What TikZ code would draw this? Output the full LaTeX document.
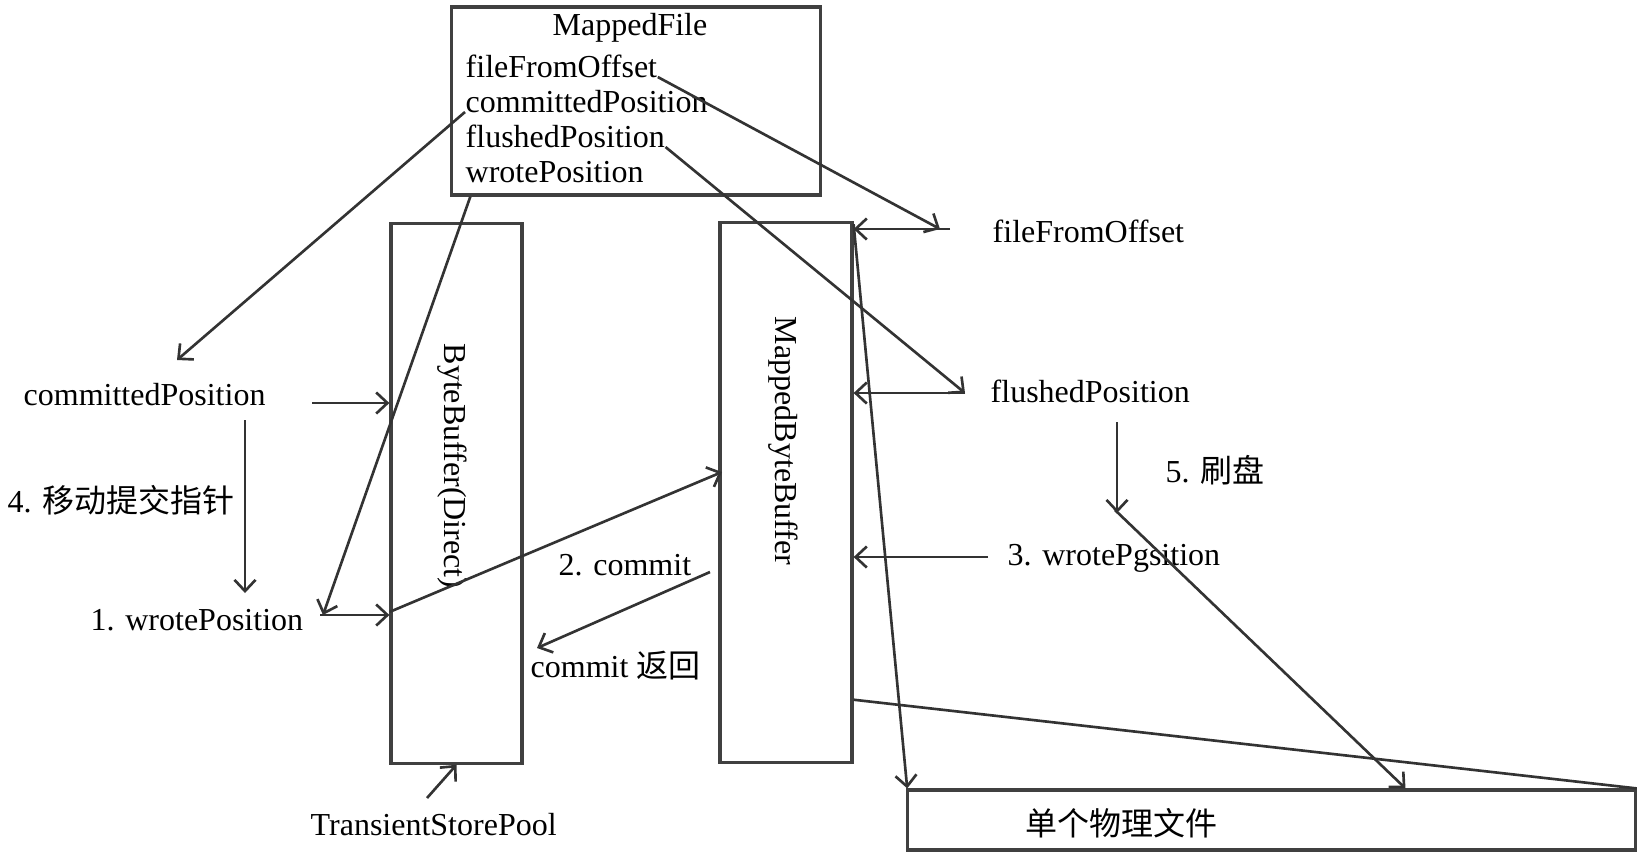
\documentclass[tikz,border=0pt]{standalone}
\usepackage{fontspec}
\setmainfont{Liberation Serif}
\newfontfamily\cjk{Noto Sans CJK SC}
\usetikzlibrary{arrows.meta}
\tikzset{box/.style={draw=black!75,line width=0.9pt,inner sep=0pt},
  txt/.style={inner sep=0pt,font=\fontsize{9.1pt}{11pt}\selectfont},
  vtxt/.style={txt,rotate=-90},
  ln/.style={draw=black!80,line width=0.75pt}}

\begin{document}
\begin{tikzpicture}[x=0.01cm,y=-0.01cm,>={Straight Barb[length=3.2pt,width=6pt]}]
        \useasboundingbox (0,0) rectangle (1645,859);
        % boxes
        \node[box,minimum width=3.68cm,minimum height=1.88cm] (mf) at (636,101) {};
        \node[box,minimum width=1.31cm,minimum height=5.39cm] (bb) at (456.5,493.5) {};
        \node[box,minimum width=1.32cm,minimum height=5.39cm] (mbb) at (786,492.5) {};
        \node[box,minimum width=7.27cm,minimum height=0.60cm] (pf) at (1271.5,820) {};

        % texts in the boxes
        \node[txt,anchor=base] (mft) at (630,35) {MappedFile};
        \node[txt,anchor=base west] (f1) at (465,77) {fileFromOffset};
        \node[txt,anchor=base west] (f2) at (465,112) {committedPosition};
        \node[txt,anchor=base west] (f3) at (465,147) {flushedPosition};
        \node[txt,anchor=base west] (f4) at (465,182) {wrotePosition};
        \node[vtxt] (bbt) at (452,466) {ByteBuffer(Direct)};
        \node[vtxt] (mbbt) at (783,441) {MappedByteBuffer};
        \node[txt,anchor=base west] (pft) at (1025,835) {\cjk 单个物理文件};

        % labels
        \node[txt,anchor=base west] (cp) at (23,405) {committedPosition};
        \node[txt,anchor=base west] (mv) at (7,512) {4. {\cjk 移动提交指针}};
        \node[txt,anchor=base west] (wp) at (90,630) {1. wrotePosition};
        \node[txt,anchor=base west] (cm) at (558,575) {2. commit};
        \node[txt,anchor=base west] (cr) at (530,677) {commit {\cjk 返回}};
        \node[txt,anchor=base west] (tsp) at (310,835) {TransientStorePool};
        \node[txt,anchor=base west] (off) at (992,242) {fileFromOffset};
        \node[txt,anchor=base west] (fl) at (990,402) {flushedPosition};
        \node[txt,anchor=base west] (fd) at (1165,482) {5. {\cjk 刷盘}};
        \node[txt,anchor=base west] (wr) at (1007,565) {3. wrotePgsition};

        % free ends
        \coordinate (cpTip) at (177,360);
        \coordinate (cpOut) at (312,403);
        \coordinate (cpDown) at (245,420);
        \coordinate (wpUp) at (245,593);
        \coordinate (wpOut) at (320,615);
        \coordinate (offOut) at (950,229);
        \coordinate (flOut) at (965,393);
        \coordinate (wrOut) at (988,557);
        \coordinate (fdTop) at (1117,422);
        \coordinate (fdTip) at (1117,513);
        \coordinate (cmTip) at (722,472);
        \coordinate (crTop) at (710,572);
        \coordinate (crTip) at (537,648);
        \coordinate (tspOut) at (427,798);

        % MappedFile fields
        \draw [ln,->] (f2.base west) to (cpTip);
        \draw [ln,->] (f1.base east) to ([xshift=-0.1cm]offOut);
        \draw [ln,->] (f3.base east) to (flOut);
        \draw [ln,->] ([xshift=0.2cm]mf.south west) to ([xshift=0.03cm]wpOut);

        % left side
        \draw [ln,->] (cpOut) to (bb.west |- cpOut);
        \draw [ln,->] (cpDown) to (wpUp);
        \draw [ln,->] (wpOut) to (bb.west |- wpOut);
        \draw [ln,->] ([yshift=0.03cm]bb.west |- wpOut) to (cmTip);
        \draw [ln,->] (crTop) to (crTip);
        \draw [ln,->] (tspOut) to (bb.south);

        % right side
        \draw [ln,->] (offOut) to (mbb.east |- offOut);
        \draw [ln,->] (flOut) to (mbb.east |- flOut);
        \draw [ln,->] (wrOut) to (mbb.east |- wrOut);
        \draw [ln,->] (fdTop) to (fdTip);
        \draw [ln,->] ([xshift=-0.02cm,yshift=0.03cm]fdTip) to ([xshift=4.99cm]pf.north west);
        \draw [ln,->] ([yshift=-0.03cm]mbb.north east) to ([xshift=0.01cm]pf.north west);
        \draw [ln] ([yshift=0.64cm]mbb.south east) to (pf.north east);
\end{tikzpicture}
\end{document}
